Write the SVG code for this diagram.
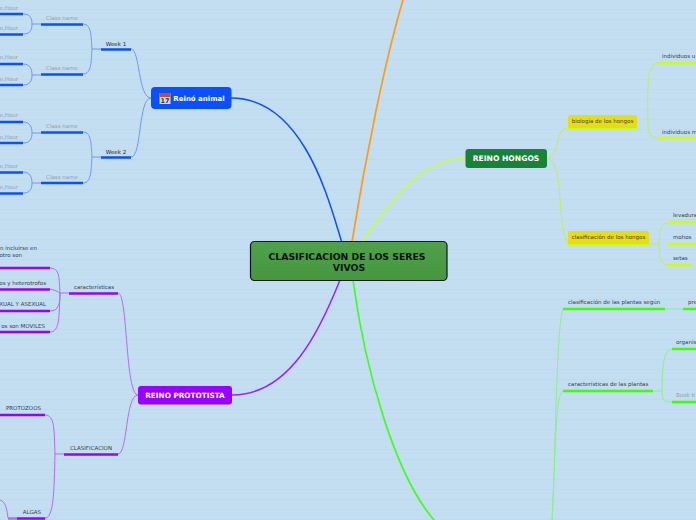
<svg xmlns="http://www.w3.org/2000/svg" width="696" height="520" viewBox="0 0 696 520">
<style>
text{font-family:"DejaVu Sans",sans-serif;font-size:5.500px;fill:#33424c}
.g{fill:#96a0a8}
.t{font-weight:bold;fill:#fff;text-anchor:middle}
.r{font-size:9.300px;font-weight:bold;fill:#0a120c;text-anchor:middle}
.c{fill:none;stroke-linecap:round}
.blue{stroke:#0a50ff}.bl{stroke:#6d98ff}
.pur{stroke:#9a00ff}.pl{stroke:#b46cf5}
.yel{stroke:#d0ff00}.yl{stroke:#c4ee50}
.grn{stroke:#3cff00}.gl{stroke:#7cf07c}
.u{stroke-width:2.500;fill:none}
.thin{stroke-width:1;fill:none}
</style>
<defs>
<pattern id="st" width="10" height="10" patternUnits="userSpaceOnUse"><rect width="10" height="10" fill="#c3ddf1"/><rect y="9" width="10" height="1" fill="#bedaef"/></pattern>
<linearGradient id="cg" x1="0" y1="0" x2="0" y2="1"><stop offset="0" stop-color="#4fa04a"/><stop offset="1" stop-color="#44983f"/></linearGradient>
</defs>
<rect width="696" height="520" fill="url(#st)"/>
<g id="connectors">
<path class="c" stroke="#0a50ff" stroke-width="1.500" d="M342 243C330 205 305 98 231 98"/>
<path class="c" stroke="#ff9c10" stroke-width="1.700" d="M352 242C365 160 385 60 403 0"/>
<path class="c" stroke="#ccff33" stroke-width="1.400" d="M362 242C395 195 425 158 466 158"/>
<path class="c" stroke="#9a20ff" stroke-width="1.500" d="M340 280C320 330 290 395 232 395"/>
<path class="c" stroke="#40ff20" stroke-width="1.700" d="M353 280C365 370 395 475 434 520"/>
<g class="thin bl">
<path d="M151 98C138 98 140 49 131 49M151 98C138 98 142 157 131 157"/>
<path d="M101 49H92C91 38 92 24 83 24M92 49C91 60 92 74 83 74M101 157H92C91 146 92 132 83 132M92 157C91 168 92 183 83 183"/>
<path d="M41 24H32C32 18 30 14 23 14M32 24C32 30 30 34 23 34M41 75H32C32 69 30 64 23 64M32 75C32 81 30 85 23 85M41 133H32C32 127 30 122 23 122M32 133C32 139 30 143 23 143M41 183H32C32 177 30 172 23 172M32 183C32 189 30 193 23 193"/>
</g>
<g class="thin pl">
<path d="M138 395C125 395 128 293 118 293M138 395C125 395 128 454 118 454"/>
<path d="M69 293H60C59 278 60 268 50 268M60 293C57 291 54 290 50 289M60 293C60 303 59 311 50 311M60 293C59 316 60 332 50 332"/>
<path d="M64 454H55C54 430 55 415 45 415M55 454C54 490 54 518 45 518"/>
<path d="M0 500C6 502 7 510 8 518"/>
</g>
<path d="M8 518.500H17" stroke="#b46cf5" stroke-width="2.500" fill="none"/>
<g class="thin yl">
<path d="M548 158C560 155 555 128 568 128M548 158C565 165 556 225 568 244M648 128C648 95 645 63 658 63M648 128C648 133 650 138 658 138"/>
<path d="M650 244H659M659 244C659 232 660 223 668 223M659 244C659 255 660 265 668 265"/>
</g>
<g fill="none" stroke="#8cf08c" stroke-width="1"><path d="M552 520C556 450 556 330 563 309M552 520C556 450 555 395 563 391M665 309L683 309M654 391H662M662 391C662 365 664 349 672 349M662 391C662 400 664 402 672 402"/></g>
<g class="u blue">
<path d="M101 49.500H131M101 157.500H131M41 24.500H83M41 74.500H83M41 132.500H83M41 183H83"/>
<path d="M0 14H23M0 34.500H23M0 64H23M0 85H23M0 122H23M0 143H23M0 172.500H23M0 193.500H23"/>
</g>
<g class="u pur">
<path d="M69 293.500H118M64 454.500H118M0 268H50M0 289.500H50M0 311H50M0 332H50M0 415H45M17 518.500H45"/>
</g>
<g class="u yel">
<path d="M567 128H638M658 63H696M658 138H696M567 244H650M668 222H696M668 244H696M668 265H692"/>
</g>
<g class="u grn">
<path d="M563 309H665M563 391H653M683 309H696M672 349H696M672 402H696"/>
</g>
</g>
<g id="root">
<rect x="250.500" y="241.500" width="196.500" height="39" rx="4" fill="url(#cg)" stroke="#0c1a20" stroke-width="1.200"/>
<text class="r" x="347" y="259.500">CLASIFICACION DE LOS SERES</text>
<text class="r" x="349" y="270.500">VIVOS</text>
</g>
<g id="reino-animal">
<rect x="151" y="87" width="80.500" height="22" rx="4" fill="#0a50ff"/>
<rect x="159.500" y="93" width="11" height="11" fill="#d8d8d8"/><rect x="159.500" y="93" width="11" height="4" fill="#c04a44"/>
<text x="165" y="103" text-anchor="middle" style="font-size:6.500px;fill:#333;font-weight:bold">17</text>
<text class="t" x="199" y="101" style="font-size:7px">Reinó animal</text>
</g>
<g id="reino-hongos">
<rect x="465.500" y="149" width="81.500" height="19" rx="3" fill="#178338"/>
<text class="t" x="506" y="161" style="font-size:7.600px">REINO HONGOS</text>
</g>
<g id="reino-prototista">
<rect x="138" y="386" width="94" height="18.500" rx="3" fill="#9a00ff"/>
<text class="t" x="185" y="398" style="font-size:7.300px">REINO PROTOTISTA</text>
</g>
<g id="animal-labels">
<text x="116" y="45.500" text-anchor="middle" style="fill:#222">Week 1</text>
<text x="116" y="153.500" text-anchor="middle" style="fill:#222">Week 2</text>
<text class="g" x="62" y="20" text-anchor="middle">Class name</text>
<text class="g" x="62" y="70" text-anchor="middle">Class name</text>
<text class="g" x="62" y="128" text-anchor="middle">Class name</text>
<text class="g" x="62" y="179" text-anchor="middle">Class name</text>
<g text-anchor="end">
<text class="g" x="18" y="9.500">e,Hour</text>
<text class="g" x="18" y="30">e,Hour</text>
<text class="g" x="18" y="59">e,Hour</text>
<text class="g" x="18" y="81">e,Hour</text>
<text class="g" x="18" y="117">e,Hour</text>
<text class="g" x="18" y="139">e,Hour</text>
<text class="g" x="18" y="168">e,Hour</text>
<text class="g" x="18" y="189">e,Hour</text>
</g>
</g>
<g id="prototista-labels">
<text x="94" y="289" text-anchor="middle">características</text>
<text x="91" y="450" text-anchor="middle">CLASIFICACION</text>
<g text-anchor="end">
<text x="37" y="250">n incluirse en</text>
<text x="22" y="257">otro son</text>
<text x="46" y="285">os y heterotrofos</text>
<text x="46" y="306">XUAL Y ASEXUAL</text>
<text x="45" y="328">os son MOVILES</text>
<text x="41" y="410">PROTOZOOS</text>
<text x="41" y="514">ALGAS</text>
</g>
</g>
<g id="hongos-labels">
<rect x="568" y="115" width="69" height="13" rx="2" fill="#e8dc14"/>
<text x="602.500" y="123" text-anchor="middle" style="fill:#444">biología de los hongos</text>
<rect x="568" y="231" width="81" height="13" rx="2" fill="#e8dc14"/>
<text x="608.500" y="239" text-anchor="middle" style="fill:#444">clasificación de los hongos</text>
<text x="662" y="58">individuos u</text>
<text x="662" y="134">individuos m</text>
<text x="673" y="217">levadura</text>
<text x="673" y="239">mohos</text>
<text x="673" y="260">setas</text>
</g>
<g id="plantas-labels">
<text x="568" y="304">clasificación de las plantas según</text>
<text x="688" y="304">pre</text>
<text x="568" y="386">características de las plantas</text>
<text x="676" y="344">organis</text>
<text class="g" x="676" y="397">Book ti</text>
</g>
</svg>
